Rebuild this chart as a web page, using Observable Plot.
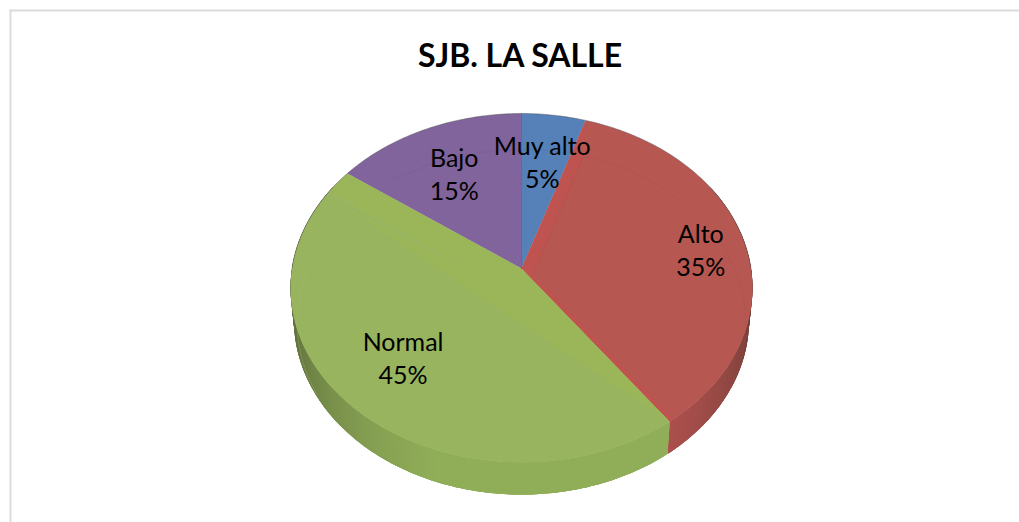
<!DOCTYPE html>
<html><head><meta charset="utf-8">
<script src="https://cdn.jsdelivr.net/npm/d3@7"></script>
<script src="https://cdn.jsdelivr.net/npm/@observablehq/plot@0.6"></script>
<style>html,body{margin:0;padding:0;background:#fff;overflow:hidden}svg{display:block}</style>
</head><body>
<script>
const title = "SJB. LA SALLE";
const categories = ["Muy alto", "Alto", "Normal", "Bajo"];
const percents = [5, 35, 45, 15];
const colors = ["#5580b8", "#b65752", "#98b45f", "#80649b"];
const edgeColors = ["#5580b8", "#bf5350", "#9ab659", "#80649b"];
const labelRadius = [0.68, 0.80, 0.69, 0.67];
const labelTurn = [-0.8, 0.6, 0, -0.8];
const bevelStart = [0, 0.058, 0.17, 0];
const bevelEnd = [0, 0.02, 0.14, 0];

const W = 1019, H = 522;
const k = 0.1118;
const toRad = d => d * Math.PI / 180;
const proj = (X, Z, shrink = 1, drop = 0) => ({sx: shrink * X / (1 + k * Z), sy: Z / (1 + k * Z) - drop});
const rim = (deg, r = 1, shrink = 1, drop = 0) => proj(r * Math.sin(toRad(deg)), r * Math.cos(toRad(deg)), shrink, drop);
const depth = 0.186, bottomShrink = 0.985;

// slice angles from the values
let acc = 0;
const slices = categories.map((name, i) => {
  const a0 = acc * 3.6; acc += percents[i]; const a1 = acc * 3.6;
  return {name, i, a0, a1, color: colors[i], pct: percents[i]};
});
const arc = (a0, a1, step = 1) => {
  const out = [];
  for (let a = a0; a < a1; a += step) out.push(a);
  out.push(a1);
  return out;
};

// side wall: overlapping strips, each painted over the last, so that the shade varies without seams
const sideQuads = [];
slices.forEach(s => {
  const from = Math.max(s.a0, 60), to = Math.min(s.a1, 300);
  if (from >= to) return;
  const shadeAt = a => {
    const isRed = s.i === 1;
    const off = isRed ? Math.max(0, 144 - a) / 50 : Math.max(0, Math.abs(a - 170) - 25) / 72;
    return Math.max(0.42, 1 - (isRed ? 0.5 : 0.62) * Math.pow(off, 1.2));
  };
  const base = s.i === 2 ? "#90ae58" : "#ae504d";
  for (let a = to - 1; a >= from - 1; a -= 1) {
    const lo = Math.max(a, from), hi = Math.min(a + 4, to);
    const fill = d3.interpolateRgb("#2c2c20", base)(shadeAt(lo));
    const id = `side${s.i}-${a}`;
    sideQuads.push({...rim(lo), id, fill});
    for (const c of arc(lo, hi, 1).slice(1)) sideQuads.push({...rim(c), id, fill});
    for (const c of arc(lo, hi, 1).reverse()) sideQuads.push({...rim(c, 1, bottomShrink, depth), id, fill});
  }
});

// top face wedges
const wedges = slices.flatMap(s => {
  const pts = [{sx: 0, sy: 0}, ...arc(s.a0, s.a1).map(a => rim(a))];
  return pts.map(p => ({...p, name: s.name, fill: s.color}));
});

// bevel bands along the straight edges of two wedges
const innerCircle = (phi) => ({X: 0.95 * Math.sin(toRad(phi)), Z: -0.202 + 0.95 * Math.cos(toRad(phi))});
const dir = a => ({X: Math.sin(toRad(a)), Z: Math.cos(toRad(a))});
function offsetApex(a0, d0, a1, d1) {
  const u = dir(a0), v = dir(a1);
  const n0 = {X: u.Z, Z: -u.X}, n1 = {X: -v.Z, Z: v.X};
  const det = n0.X * n1.Z - n0.Z * n1.X;
  return {X: (d0 * n1.Z - d1 * n0.Z) / det, Z: (n0.X * d1 - n1.X * d0) / det};
}
const bevels = [];
function addBevel(s, innerStartPhi) {
  const d0 = bevelStart[s.i], d1 = bevelEnd[s.i];
  const apex = offsetApex(s.a0, d0, s.a1, d1);
  const p0 = innerCircle(innerStartPhi);
  const v = dir(s.a1), n1 = {X: -v.Z, Z: v.X}, len = Math.sqrt(1 - d1 * d1);
  const end = {X: v.X * len + n1.X * d1, Z: v.Z * len + n1.Z * d1};
  const seq = [rim(s.a0), proj(p0.X, p0.Z), proj(apex.X, apex.Z), proj(end.X, end.Z), rim(s.a1), {sx: 0, sy: 0}];
  seq.forEach(p => bevels.push({...p, name: s.name, fill: edgeColors[s.i]}));
  return {p0: proj(p0.X, p0.Z), apex: proj(apex.X, apex.Z), end: proj(end.X, end.Z)};
}
const innerEdges = [];
const red = addBevel(slices[1], 17.8);
[red.p0, red.apex].forEach(p => innerEdges.push({...p, id: "r", c: "#a5504c"}));
const green = addBevel(slices[2], -54.6);
[green.p0, green.apex, green.end].forEach(p => innerEdges.push({...p, id: "g", c: "#a4c06e"}));

// faint inner circle
const innerArcs = [
  {id: "a", from: -38, to: 0, c: "#6f5590"},
  {id: "b", from: 0, to: 14, c: "#4a74a8"},
  {id: "c", from: 17.8, to: 118, c: "#a5504c"},
  {id: "d", from: -120, to: -54.6, c: "#a4c06e"}
].flatMap(d => arc(d.from, d.to).map(a => {
  const q = innerCircle(a);
  return {...proj(q.X, q.Z), id: d.id, c: d.c};
}));

const backRim = arc(-90, 90).map(a => rim(a));
const spokes = [rim(0), {sx: 0, sy: 0}];

const labels = slices.map((s, i) => {
  const mid = (s.a0 + s.a1) / 2 + labelTurn[i];
  return {...rim(mid, labelRadius[i]), text: `${s.name}\n${s.pct}%`};
});

const R = 229.5, A = 172.3, cx = 521, cy = 268, mL = 10, mT = 10;
const chart = Plot.plot({
  width: W, height: H,
  marginLeft: mL, marginTop: mT, marginRight: 0, marginBottom: 0,
  x: {axis: null, domain: [(mL - cx) / R, (W - cx) / R]},
  y: {axis: null, domain: [(cy - H) / A, (cy - mT) / A]},
  style: {background: "#fff", fontFamily: "Lato"},
  marks: [
    Plot.frame({anchor: "left", stroke: "#dcdcdc", strokeWidth: 2}),
    Plot.frame({anchor: "top", stroke: "#dcdcdc", strokeWidth: 2}),
    Plot.line(sideQuads, {x: "sx", y: "sy", z: "id", fill: d => d.fill, stroke: null, curve: "linear-closed"}),
    Plot.line(wedges, {x: "sx", y: "sy", z: "name", fill: d => d.fill, stroke: null, curve: "linear-closed"}),
    Plot.line(bevels, {x: "sx", y: "sy", z: "name", fill: d => d.fill, stroke: null, curve: "linear-closed"}),
    Plot.line(innerEdges, {x: "sx", y: "sy", z: "id", stroke: d => d.c, strokeWidth: 0.7, strokeOpacity: 0.4}),
    Plot.line(innerArcs, {x: "sx", y: "sy", z: "id", stroke: d => d.c, strokeWidth: 0.7, strokeOpacity: 0.45}),
    Plot.line(backRim, {x: "sx", y: "sy", stroke: "#555", strokeWidth: 1, strokeOpacity: 0.45}),
    Plot.line(spokes, {x: "sx", y: "sy", stroke: "#5c5a9a", strokeWidth: 1, strokeOpacity: 0.8}),
    Plot.text(labels, {x: "sx", y: "sy", text: "text", fontSize: 25, lineHeight: 1.32, fill: "#000", textAnchor: "middle"}),
    Plot.text([title], {frameAnchor: "top", dy: 34, dx: 5, fontSize: 32, fontWeight: 700, fill: "#000"})
  ]
});
document.body.appendChild(chart);
</script>
</body></html>
